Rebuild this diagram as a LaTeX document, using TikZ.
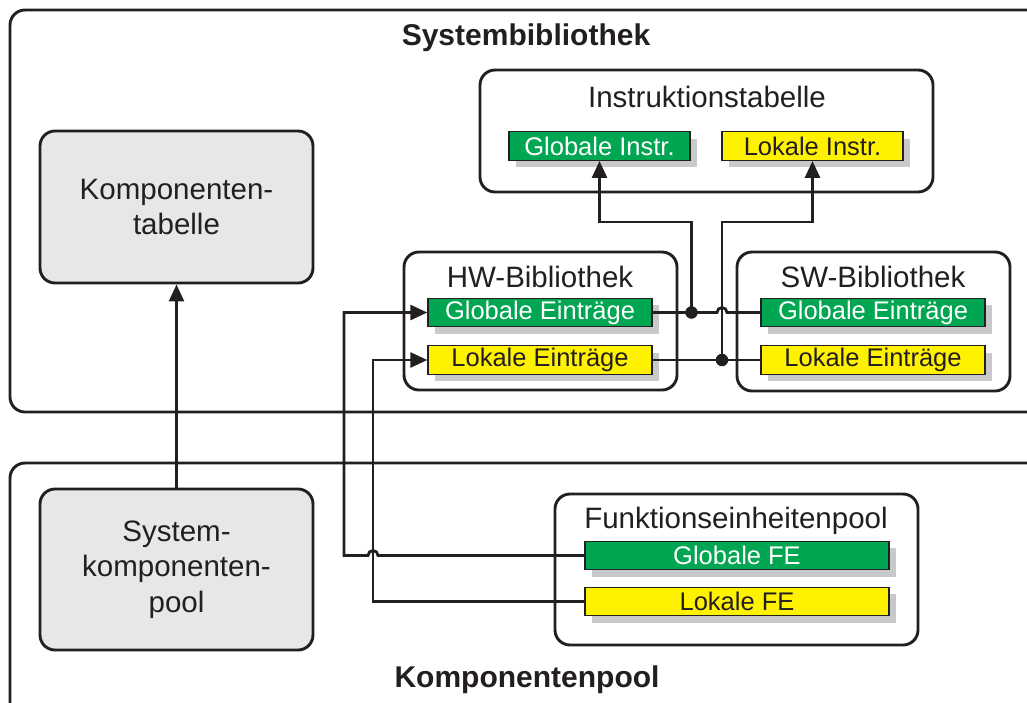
\documentclass[tikz,border=0pt]{standalone}
\usepackage{fontspec}
\setmainfont{Liberation Sans}
\usetikzlibrary{arrows.meta,shadows}
\definecolor{ink}{HTML}{231F20}
\definecolor{boxgray}{HTML}{E6E7E8}
\definecolor{shadowgray}{HTML}{C8C9CB}
\definecolor{fegreen}{HTML}{00A651}
\definecolor{feyellow}{HTML}{FFF200}
\begin{document}
\begin{tikzpicture}[x=1pt,y=-1pt,
  frame/.style={draw=ink,line width=2.9pt,rounded corners=15pt},
  graybox/.style={frame,fill=boxgray,inner sep=0pt,align=center,text=ink,
    font=\fontsize{29.5}{35.5}\selectfont},
  panel/.style={frame,fill=white,inner sep=0pt},
  title/.style={text=ink,inner sep=0pt,font=\fontsize{29.5}{35}\selectfont},
  heading/.style={text=ink,inner sep=0pt,font=\fontsize{30}{36}\selectfont\bfseries},
  entry/.style={draw=ink,line width=1.4pt,inner sep=0pt,minimum height=28.5pt,
    font=\fontsize{25.5}{30}\selectfont,
    drop shadow={shadow xshift=7pt,shadow yshift=-7pt,fill=shadowgray,opacity=1}},
  global/.style={entry,fill=fegreen,text=white},
  local/.style={entry,fill=feyellow,text=ink},
  wire/.style={draw=ink,line width=2.8pt},
  arrow/.style={wire,-{Triangle[length=17pt,width=15pt]}},
  junction/.style={circle,fill=ink,inner sep=0pt,minimum size=12.5pt}]

\useasboundingbox (0,0) rectangle (1027,702);
\clip (0,0) rectangle (1027,702);

% library and pool frames, open to the right
\draw[frame] (10,10) rectangle (1070,412);
\draw[frame] (10,463) rectangle (1070,725);
\node[heading] (sysbib) at (526,38) {Systembibliothek};
\node[heading] (kpool) at (527,680) {Komponentenpool};

% component table and system component pool
\node[graybox,minimum width=273pt,minimum height=152pt] (ktab) at (176.5,207)
  {Komponenten-\\tabelle};
\node[graybox,minimum width=273pt,minimum height=161pt] (skpool) at (176.5,569.5)
  {System-\\komponenten-\\pool};

% instruction table
\node[panel,minimum width=453pt,minimum height=122pt] (itab) at (706.5,131) {};
\node[title] (itabt) at (707,97) {Instruktionstabelle};
\node[global,minimum width=181pt] (ginstr) at (599.5,146) {Globale Instr.};
\node[local,minimum width=181pt] (linstr) at (812.5,146) {Lokale Instr.};

% HW and SW libraries
\node[panel,minimum width=273pt,minimum height=138pt] (hwbib) at (540.5,321) {};
\node[title] (hwt) at (540,277) {HW-Bibliothek};
\node[global,minimum width=224pt] (hwg) at (540,312.5) {Globale Einträge};
\node[local,minimum width=224pt] (hwl) at (540,360) {Lokale Einträge};

\node[panel,minimum width=273pt,minimum height=139pt] (swbib) at (873.5,321.5) {};
\node[title] (swt) at (873,277) {SW-Bibliothek};
\node[global,minimum width=224pt] (swg) at (873,312.5) {Globale Einträge};
\node[local,minimum width=224pt] (swl) at (873,360) {Lokale Einträge};

% function unit pool
\node[panel,minimum width=363pt,minimum height=151pt] (fepool) at (736.5,569.5) {};
\node[title] (fet) at (736,521) {Funktionseinheitenpool};
\node[global,minimum width=304pt] (gfe) at (737,555.5) {Globale FE};
\node[local,minimum width=304pt] (lfe) at (737,601.5) {Lokale FE};

% connectors
\draw[arrow] (skpool.north) -- (ktab.south);

\draw[arrow] (gfe.west) -- (378,555.5)
  arc[start angle=0,delta angle=-180,radius=5] -- (344,555.5) |- (hwg.west);
\draw[arrow] (lfe.west) -| (373,450) |- (hwl.west);

\node[junction] (jg) at (691.5,312.5) {};
\node[junction] (jl) at (722,360) {};
\draw[wire] (hwg.east) -- (717,312.5)
  arc[start angle=180,delta angle=180,radius=5] -- (swg.west);
\draw[wire] (hwl.east) -- (swl.west);
\draw[arrow] (jg.center) |- (650,222) -| (ginstr.south);
\draw[arrow] (jl.center) |- (760,222) -| (linstr.south);
\end{tikzpicture}
\end{document}
